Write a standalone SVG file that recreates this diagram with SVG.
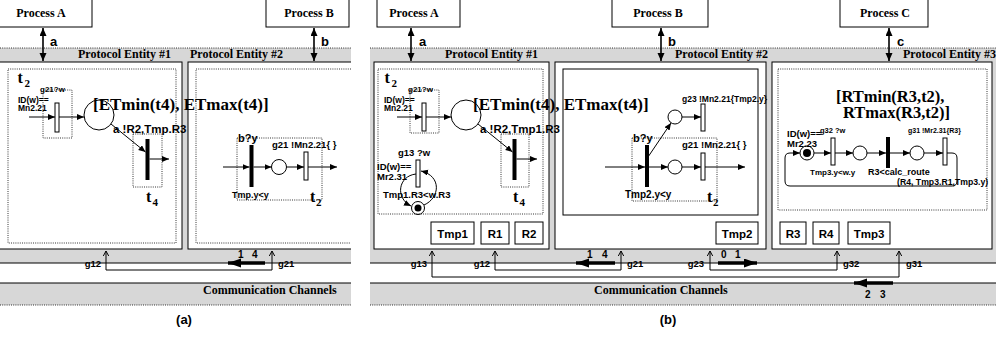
<svg xmlns="http://www.w3.org/2000/svg" width="1002" height="337" viewBox="0 0 1002 337">
<defs>
<style>
.gr{fill:#d7d7d7}
.box{fill:#fff;stroke:#000;stroke-width:1}
.dot{fill:none;stroke:#000;stroke-width:0.8;stroke-dasharray:1 1.2}
.dl{stroke:#000;stroke-width:0.8;stroke-dasharray:1 1.2}
.ln{fill:none;stroke:#000;stroke-width:1}
.ar{fill:none;stroke:#000;stroke-width:1;marker-end:url(#ah)}
.da{stroke:#000;stroke-width:1.6;marker-start:url(#dh);marker-end:url(#dh)}
.ch{fill:none;stroke:#000;stroke-width:1;marker-start:url(#chv);marker-end:url(#chv)}
.th{stroke:#000;stroke-width:3.5;marker-end:url(#thk)}
.hr{fill:#fff;stroke:#000;stroke-width:1}
.bar{fill:#000}
.pl{fill:none;stroke:#000;stroke-width:1}
.s{font-family:"Liberation Sans",Arial,sans-serif;font-weight:bold;fill:#000}
.r{font-family:"Liberation Serif","Times New Roman",serif;font-weight:bold;fill:#000}
.proc{font-size:12px;text-anchor:middle}
.pe{font-size:12px}
.big{font-size:17px}
.tt{font-size:16px}
.sub{font-size:11px}
.lab{font-size:13px}
.gl{font-size:9.5px}
.nm{font-size:10px}
.reg{font-size:11.5px;text-anchor:middle}
</style>
<marker id="ah" markerUnits="userSpaceOnUse" markerWidth="8" markerHeight="7" refX="7" refY="3" orient="auto"><path d="M0,0 L7,3 L0,6 z" fill="#000"/></marker>
<marker id="dh" markerUnits="userSpaceOnUse" markerWidth="9" markerHeight="8" refX="8" refY="3.5" orient="auto-start-reverse"><path d="M0,0 L8,3.5 L0,7 z" fill="#000"/></marker>
<marker id="chv" markerUnits="userSpaceOnUse" markerWidth="6" markerHeight="7" refX="5" refY="3" orient="auto-start-reverse"><path d="M0,0.3 L5,3 L0,5.7" fill="none" stroke="#000" stroke-width="1"/></marker>
<marker id="thk" markerUnits="userSpaceOnUse" markerWidth="14" markerHeight="10" refX="13" refY="4.5" orient="auto"><path d="M0,0 L13,4.5 L0,9 z" fill="#000"/></marker>
<clipPath id="clipA"><rect x="0" y="0" width="351" height="337"/></clipPath>
</defs>
<rect width="1002" height="337" fill="#fff"/>

<!-- ============ PANEL (a) ============ -->
<g id="panelA" clip-path="url(#clipA)">
  <g id="a-bands">
    <rect class="gr" x="-5" y="48" width="360" height="215"/>
    <line class="dl" x1="0" y1="48" x2="351" y2="48"/>
    <rect class="gr" x="-5" y="283" width="360" height="22"/>
    <line class="dl" x1="0" y1="305" x2="351" y2="305"/>
    <line class="ln" x1="0" y1="263" x2="351" y2="263"/>
    <line class="ln" x1="0" y1="283" x2="351" y2="283"/>
    <text class="r pe" x="78" y="58">Protocol Entity #1</text>
    <text class="r pe" x="190" y="58">Protocol Entity #2</text>
    <text class="r pe" x="203" y="294">Communication Channels</text>
  </g>
  <g id="a-procA">
    <rect class="box" x="-10" y="-1" width="102" height="28"/>
    <text class="r proc" x="41" y="17">Process A</text>
  </g>
  <g id="a-procB">
    <rect class="box" x="266" y="-1" width="83" height="28"/>
    <text class="r proc" x="309" y="17">Process B</text>
  </g>
  <g id="a-ent1">
    <rect class="box" x="-5" y="62" width="187" height="187"/>
    <rect class="dot" x="8" y="69" width="168" height="174"/>
    <text class="r tt" x="17.5" y="83">t</text><text class="r sub" x="24.5" y="87">2</text>
    <text class="s" font-size="8" x="40" y="92">g21?w</text>
    <text class="s" font-size="8.5" x="18" y="102.5">ID(w)==</text>
    <text class="s" font-size="8.5" x="18" y="110.5">Mn2.21</text>
    <rect class="dot" x="43" y="90" width="29" height="48"/>
    <line class="ar" x1="29" y1="117" x2="55" y2="117"/>
    <rect class="hr" x="55" y="103" width="4" height="29"/>
    <line class="ar" x1="59" y1="117" x2="84" y2="117"/>
    <circle class="pl" cx="99" cy="115" r="15"/>
    <line class="ar" x1="111" y1="124" x2="145.5" y2="152"/>
    <text class="s" font-size="11.5" x="113" y="133">a !R2,Tmp.R3</text>
    <rect class="dot" x="133" y="134" width="29" height="53"/>
    <rect class="bar" x="145.5" y="139" width="4" height="41"/>
    <line class="ar" x1="149.5" y1="159" x2="169" y2="159"/>
    <text class="r tt" x="146" y="202">t</text><text class="r sub" x="152.5" y="205.5">4</text>
  </g>
  <g id="a-ent2">
    <rect class="box" x="188" y="62" width="200" height="187"/>
    <rect class="dot" x="196" y="69" width="200" height="174"/>
    <text class="s" font-size="11" x="238" y="142">b?y</text>
    <rect class="dot" x="237" y="138" width="85" height="62"/>
    <line class="ar" x1="223" y1="167" x2="249.5" y2="167"/>
    <rect class="bar" x="249.5" y="145" width="4" height="42"/>
    <line class="ar" x1="253.5" y1="167" x2="271.5" y2="167"/>
    <circle class="pl" cx="279" cy="167" r="7.5"/>
    <line class="ar" x1="286.5" y1="167" x2="304" y2="167"/>
    <rect class="hr" x="304" y="152" width="4" height="28"/>
    <line class="ar" x1="308" y1="167" x2="337" y2="167"/>
    <text class="s" font-size="9.5" x="272" y="148">g21 !Mn2.21{ }</text>
    <text class="s" font-size="9" x="232" y="198">Tmp.y&lt;y</text>
    <text class="r tt" x="310" y="202">t</text><text class="r sub" x="316" y="206">2</text>
  </g>
  <text id="a-etlabel" class="r big" x="93" y="110">[ETmin(t4), ETmax(t4)]</text>
  <g id="a-connectors">
    <line class="da" x1="43" y1="28" x2="43" y2="61"/>
    <text class="s lab" x="50" y="46">a</text>
    <line class="da" x1="314" y1="28" x2="314" y2="61"/>
    <text class="s lab" x="321" y="46">b</text>
    <path class="ch" d="M106,251 V270 H272 V251"/>
    <line class="th" x1="265" y1="263" x2="228" y2="263"/>
    <text class="s nm" x="238" y="258">1</text><text class="s nm" x="252" y="258">4</text>
    <text class="s gl" x="101" y="266.5" text-anchor="end">g12</text>
    <text class="s gl" x="278" y="266.5">g21</text>
  </g>
</g>
<text class="s" font-size="13" x="184" y="324" text-anchor="middle">(a)</text>

<!-- ============ PANEL (b) ============ -->
<g id="b-bands">
  <rect class="gr" x="370" y="48" width="626" height="215"/>
  <line class="dl" x1="370" y1="48" x2="996" y2="48"/>
  <rect class="gr" x="370" y="283" width="626" height="22"/>
  <line class="dl" x1="370" y1="305" x2="996" y2="305"/>
  <line class="ln" x1="370" y1="263" x2="996" y2="263"/>
  <line class="ln" x1="370" y1="283" x2="996" y2="283"/>
  <text class="r pe" x="445" y="58">Protocol Entity #1</text>
  <text class="r pe" x="675" y="58">Protocol Entity #2</text>
  <text class="r pe" x="903" y="58">Protocol Entity #3</text>
  <text class="r pe" x="594" y="294">Communication Channels</text>
</g>
<g id="b-procA">
  <rect class="box" x="377" y="-1" width="83" height="28"/>
  <text class="r proc" x="414" y="17">Process A</text>
</g>
<g id="b-procB">
  <rect class="box" x="612" y="-1" width="96" height="28"/>
  <text class="r proc" x="658" y="17">Process B</text>
</g>
<g id="b-procC">
  <rect class="box" x="840" y="-1" width="88" height="28"/>
  <text class="r proc" x="885" y="17">Process C</text>
</g>
<g id="b-ent1">
  <rect class="box" x="374" y="62" width="175" height="187"/>
  <rect class="dot" x="378" y="69" width="165" height="145"/>
  <text class="r tt" x="384.5" y="83">t</text><text class="r sub" x="391.5" y="87">2</text>
  <text class="s" font-size="8" x="408" y="92">g21?w</text>
  <text class="s" font-size="8.5" x="384" y="102.5">ID(w)==</text>
  <text class="s" font-size="8.5" x="384" y="110.5">Mn2.21</text>
  <rect class="dot" x="410" y="90" width="29" height="43"/>
  <line class="ar" x1="397" y1="117" x2="422" y2="117"/>
  <rect class="hr" x="422" y="103" width="4" height="28"/>
  <line class="ar" x1="426" y1="117" x2="451" y2="117"/>
  <circle class="pl" cx="466" cy="115" r="15"/>
  <line class="ar" x1="478" y1="124" x2="512.5" y2="152"/>
  <rect class="dot" x="501" y="134" width="28" height="53"/>
  <rect class="bar" x="512.5" y="139" width="4" height="41"/>
  <line class="ar" x1="516.5" y1="159" x2="537" y2="159"/>
  <text class="r tt" x="513" y="202">t</text><text class="r sub" x="519.5" y="205.5">4</text>
  <text class="s" font-size="9.5" x="398" y="156">g13 ?w</text>
  <text class="s" font-size="9.5" x="377" y="170">ID(w)==</text>
  <text class="s" font-size="9.5" x="377" y="180">Mr2.31</text>
  <rect class="hr" x="416" y="160" width="4" height="27"/>
  <path class="ar" d="M416,174 C398,176 395,198 411,206"/>
  <path class="ar" d="M424,205 C440,198 442,176 421,171"/>
  <circle class="pl" cx="418" cy="208" r="6.5"/>
  <circle cx="418" cy="208" r="3.5" fill="#000"/>
  <text class="s" font-size="9.5" x="383" y="198">Tmp1.R3&lt;w.R3</text>
  <rect class="box" x="431" y="222" width="43" height="22"/>
  <text class="s reg" x="452.5" y="238">Tmp1</text>
  <rect class="box" x="481" y="222" width="28" height="22"/>
  <text class="s reg" x="495" y="238">R1</text>
  <rect class="box" x="515" y="222" width="28" height="22"/>
  <text class="s reg" x="529" y="238">R2</text>
</g>
<g id="b-ent2">
  <rect class="box" x="555" y="62" width="211" height="187"/>
  <rect class="box" x="563" y="69" width="195" height="146"/>
  <text class="s" font-size="8.5" x="682" y="102">g23 !Mn2.21{Tmp2.y}</text>
  <circle class="pl" cx="675" cy="117" r="7"/>
  <line class="ar" x1="682" y1="117" x2="701" y2="117"/>
  <rect class="hr" x="701" y="104" width="4" height="27"/>
  <line class="ar" x1="648" y1="157" x2="671" y2="123"/>
  <text class="s" font-size="11" x="633" y="142">b?y</text>
  <rect class="dot" x="632" y="138" width="85" height="63"/>
  <line class="ar" x1="605" y1="167" x2="645" y2="167"/>
  <rect class="bar" x="645" y="145" width="4" height="42"/>
  <line class="ar" x1="649" y1="167" x2="668" y2="167"/>
  <circle class="pl" cx="675" cy="167" r="7"/>
  <line class="ar" x1="682" y1="167" x2="701" y2="167"/>
  <rect class="hr" x="701" y="153" width="4" height="27"/>
  <line class="ar" x1="705" y1="167" x2="745" y2="167"/>
  <text class="s" font-size="9.5" x="682" y="148">g21 !Mn2.21{ }</text>
  <text class="s" font-size="10" x="625" y="198">Tmp2.y&lt;y</text>
  <text class="r tt" x="707" y="202">t</text><text class="r sub" x="713" y="206">2</text>
  <rect class="box" x="716" y="222" width="42" height="22"/>
  <text class="s reg" x="737" y="238">Tmp2</text>
</g>
<g id="b-ent3">
  <rect class="box" x="772" y="62" width="220" height="187"/>
  <rect class="dot" x="778" y="69" width="209" height="141"/>
  <text class="r" font-size="16.5" x="836" y="102">[RTmin(R3,t2),</text>
  <text class="r" font-size="16.5" x="843" y="118">RTmax(R3,t2)]</text>
  <text class="s" font-size="7.5" x="820" y="133">g32 ?w</text>
  <text class="s" font-size="7" x="908" y="133">g31 !Mr2.31{R3}</text>
  <text class="s" font-size="9.5" x="787" y="137">ID(w)==</text>
  <text class="s" font-size="9.5" x="787" y="147">Mr2.23</text>
  <circle class="pl" cx="807" cy="153" r="7"/>
  <circle cx="807" cy="153" r="4" fill="#000"/>
  <line class="ar" x1="814" y1="153" x2="831" y2="153"/>
  <rect class="hr" x="831" y="138" width="4" height="27"/>
  <line class="ar" x1="835" y1="153" x2="853" y2="153"/>
  <circle class="pl" cx="860" cy="153" r="7"/>
  <line class="ar" x1="867" y1="153" x2="886" y2="153"/>
  <rect class="bar" x="886" y="137" width="4" height="31"/>
  <line class="ar" x1="890" y1="153" x2="910" y2="153"/>
  <circle class="pl" cx="917" cy="153" r="7"/>
  <line class="ar" x1="924" y1="153" x2="943" y2="153"/>
  <rect class="hr" x="943" y="138" width="4" height="27"/>
  <path class="ar" d="M947,153 H952 Q957,153 957,158 V181 Q957,186 952,186 H790 Q785,186 785,181 V158 Q785,153 790,153 H800"/>
  <text class="s" font-size="8" x="810" y="175">Tmp3.y&lt;w.y</text>
  <text class="s" font-size="9" x="868" y="175">R3&lt;calc_route</text>
  <text class="s" font-size="8.7" x="897" y="185">(R4, Tmp3.R1,Tmp3.y)</text>
  <rect class="box" x="780" y="222" width="26" height="22"/>
  <text class="s reg" x="793" y="238">R3</text>
  <rect class="box" x="813" y="222" width="26" height="22"/>
  <text class="s reg" x="826" y="238">R4</text>
  <rect class="box" x="848" y="222" width="42" height="22"/>
  <text class="s reg" x="869" y="238">Tmp3</text>
</g>
<text id="b-etlabel" class="r big" x="473" y="110">[ETmin(t4), ETmax(t4)]</text>
<text id="b-alabel" class="s" font-size="11.5" x="480" y="133">a !R2,Tmp1.R3</text>
<g id="b-connectors">
  <line class="da" x1="411" y1="28" x2="411" y2="61"/>
  <text class="s lab" x="419" y="46">a</text>
  <line class="da" x1="661" y1="28" x2="661" y2="61"/>
  <text class="s lab" x="668" y="46">b</text>
  <line class="da" x1="889" y1="28" x2="889" y2="61"/>
  <text class="s lab" x="897" y="46">c</text>
  <path class="ch" d="M495,251 V270 H621 V251"/>
  <path class="ch" d="M710,251 V270 H837 V251"/>
  <path class="ch" d="M432,251 V277 H899 V251"/>
  <line class="th" x1="615" y1="263" x2="576" y2="263"/>
  <text class="s nm" x="587" y="258">1</text><text class="s nm" x="602" y="258">4</text>
  <line class="th" x1="718" y1="263" x2="757" y2="263"/>
  <text class="s nm" x="721" y="258">0</text><text class="s nm" x="735" y="258">1</text>
  <line class="th" x1="893" y1="283" x2="854" y2="283"/>
  <text class="s nm" x="865" y="298">2</text><text class="s nm" x="880" y="298">3</text>
  <text class="s gl" x="427" y="266.5" text-anchor="end">g13</text>
  <text class="s gl" x="490" y="266.5" text-anchor="end">g12</text>
  <text class="s gl" x="627" y="266.5">g21</text>
  <text class="s gl" x="704" y="266.5" text-anchor="end">g23</text>
  <text class="s gl" x="843" y="266.5">g32</text>
  <text class="s gl" x="906" y="266.5">g31</text>
</g>
<text class="s" font-size="13" x="668" y="324" text-anchor="middle">(b)</text>
</svg>
